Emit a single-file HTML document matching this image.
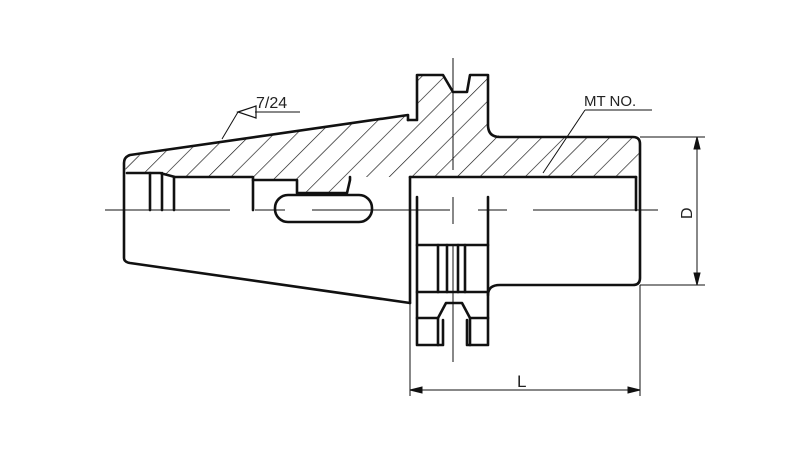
<!DOCTYPE html>
<html><head><meta charset="utf-8"><style>
html,body{margin:0;padding:0;background:#fff;}
svg{display:block;}
text{font-family:"Liberation Sans",sans-serif;fill:#222;}
</style></head><body>
<svg width="800" height="450" viewBox="0 0 800 450" xmlns="http://www.w3.org/2000/svg">
<defs>
<pattern id="h" patternUnits="userSpaceOnUse" width="16" height="16" patternTransform="rotate(45)">
<line x1="0" y1="0" x2="0" y2="16" stroke="#111" stroke-width="1.3"/>
</pattern>
</defs>
<path d="M127,157 L408,115 L408,120 L417,120 L417,75 L443,75 L453,92 L467,92 L470,75 L488,75 L488,125 L500,137 L635,137 L640,142 L640,172 L636,177 L350,177 L347,193 L297,193 L297,180 L253,180 L253,177 L175,177 L162,173 L125,173 Z" fill="url(#h)"/>
<g fill="none" stroke="#111" stroke-width="2.6" stroke-linejoin="round" stroke-linecap="round">
<path d="M408,120 L408,115 L130,155 Q124,157 124,163 L124,258 Q124,262 130,263 L410,303"/>
<line x1="410" y1="177" x2="410" y2="303"/>
<path d="M408,120 L417,120 L417,75 L443,75 L453,92 L467,92 L470,75 L488,75 L488,125 Q488,137 500,137 L633,137 Q640,137 640,144 L640,278 Q640,285 633,285 L500,285 Q488,285 488,295"/>
<path d="M410,177 L636,177"/>
<line x1="636" y1="177" x2="636" y2="210"/>
<path d="M127,173 L160,173 L175,177 L253,177 L253,210"/>
<path d="M253,180 L297,180 L297,193 L347,193 L350,180 L350,177"/>
<line x1="150" y1="173" x2="150" y2="210"/>
<line x1="162" y1="173" x2="162" y2="210"/>
<line x1="174" y1="177" x2="174" y2="210"/>
<rect x="275" y="195" width="97" height="27" rx="13"/>
<path d="M417,197 L417,345 L443,345 L443,320"/>
<path d="M488,197 L488,345 L467,345 L467,320"/>
<path d="M417,245 L488,245"/>
<path d="M417,292 L488,292"/>
<line x1="438" y1="245" x2="438" y2="292"/>
<line x1="447" y1="245" x2="447" y2="292"/>
<line x1="458" y1="245" x2="458" y2="292"/>
<line x1="465" y1="245" x2="465" y2="292"/>
<path d="M417,318 L438,318 L446,303 L462,303 L470,318 L488,318"/>
<path d="M438,318 L438,345 M470,318 L470,345"/>
</g>
<g stroke="#111" stroke-width="1" fill="none">
<line x1="105" y1="210" x2="230" y2="210"/>
<line x1="255" y1="210" x2="285" y2="210"/>
<line x1="312" y1="210" x2="408" y2="210"/>
<line x1="400" y1="210" x2="450" y2="210"/>
<line x1="478" y1="210" x2="507" y2="210"/>
<line x1="533" y1="210" x2="658" y2="210"/>
<line x1="453" y1="197" x2="453" y2="224"/>
<line x1="453" y1="58" x2="453" y2="170"/>
<line x1="453" y1="245" x2="453" y2="362"/>
<line x1="640" y1="137" x2="705" y2="137"/>
<line x1="640" y1="285" x2="705" y2="285"/>
<line x1="697" y1="137" x2="697" y2="285"/>
<path d="M697,137 l-3,12 l6,0 Z M697,285 l-3,-12 l6,0 Z" fill="#111"/>
<line x1="410" y1="303" x2="410" y2="396"/>
<line x1="640" y1="285" x2="640" y2="396"/>
<line x1="410" y1="390" x2="640" y2="390"/>
<path d="M410,390 l12,-3 l0,6 Z M640,390 l-12,-3 l0,6 Z" fill="#111"/>
<line x1="255" y1="112" x2="300" y2="112"/>
<path d="M238,112 L256,106 L256,118 Z" stroke-width="1.2"/>
<line x1="238" y1="112" x2="222" y2="139"/>
<line x1="585" y1="110" x2="652" y2="110"/>
<line x1="585" y1="110" x2="543" y2="173"/>
</g>
<text x="256" y="108" font-size="16">7/24</text>
<text x="584" y="106" font-size="15">MT  NO.</text>
<text x="517" y="387" font-size="17">L</text>
<text x="0" y="0" font-size="16" transform="translate(692,219) rotate(-90)">D</text>
</svg>
</body></html>
